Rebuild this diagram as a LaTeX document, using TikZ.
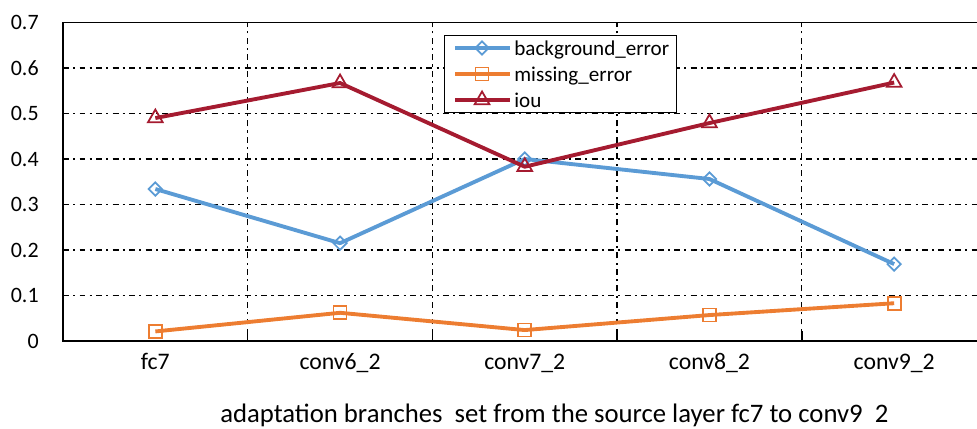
\documentclass[tikz,border=0pt]{standalone}
\usepackage{fontspec}
\setmainfont{Carlito}
\usetikzlibrary{shapes.geometric}

\definecolor{blu}{RGB}{91,155,213}
\definecolor{arancio}{RGB}{237,125,49}
\definecolor{rosso}{RGB}{165,27,48}

\begin{document}
\begin{tikzpicture}[x=3.694cm, y=9.1cm, font=\fontsize{12.5}{15}\selectfont]
\tikzstyle{griglia} = [line width=1pt, dash pattern=on 3.4pt off 2.4pt on 1.2pt off 2.4pt]
\tikzstyle{grigliav} = [line width=0.7pt, dash pattern=on 3.4pt off 2.4pt on 1.2pt off 2.4pt]
\tikzstyle{asse} = [line width=1.1pt]
\tikzstyle{serie} = [line width=2.2pt, line join=round]
\tikzstyle{mkb} = [draw=blu, line width=1pt, diamond, aspect=1, minimum size=0.28cm, inner sep=0]
\tikzstyle{mkm} = [draw=arancio, line width=1pt, rectangle, minimum size=0.26cm, inner sep=0]
\tikzstyle{mki} = [draw=rosso, line width=1pt, regular polygon, regular polygon sides=3, minimum size=0.34cm, inner sep=0]

% Dimensioni
\def\xmax{4.9486}
\def\ymax{0.7}

\useasboundingbox (-1.26cm,-1.76cm) rectangle (18.28cm,6.82cm);

% Griglia orizzontale
\foreach \v in {0.1,0.2,0.3,0.4,0.5,0.6} {
  \draw[griglia] (0,\v) -- (\xmax,\v);
}

% Griglia verticale e tacche
\foreach \c in {1,...,4} {
  \draw[grigliav] (\c,0) -- (\c,\ymax);
  \draw[line width=0.8pt] (\c,0) -- (\c,0.022);
}

% Assi
\draw[asse] (\xmax,\ymax) -- (0,\ymax) -- (0,0) -- (\xmax,0);

% Etichette asse y
\foreach \v [count=\k from 0] in {0,0.1,0.2,0.3,0.4,0.5,0.6,0.7} {
  \node[anchor=east, inner sep=0, xshift=-0.48cm] (ey-\k) at (0,\v) {\v};
}

% Etichette categorie
\foreach \nome [count=\k from 0] in {fc7,conv6\_2,conv7\_2,conv8\_2,conv9\_2} {
  \node[anchor=base, inner sep=0, yshift=-0.58cm, font=\fontsize{13.5}{16}\selectfont]
    (cat-\k) at (\k+0.5,0) {\nome};
}

% Titolo asse x
\node[anchor=base, inner sep=0, yshift=-1.64cm, font=\fontsize{15.2}{18}\selectfont]
  (titolo) at (2.66,0)
  {adaptation branches\ \ set from the source layer fc7 to conv9\ \ 2};

% --- Serie di dati ---------------------------------------------------
% background_error
\foreach \v [count=\k from 0] in {0.334,0.215,0.400,0.356,0.169} {
  \coordinate (b-\k) at (\k+0.5,\v);
}
\draw[serie, blu] (b-0) -- (b-1) -- (b-2) -- (b-3) -- (b-4);
\foreach \k in {0,...,4} {
  \node[mkb] (mb-\k) at (b-\k) {};
}

% missing_error
\foreach \v [count=\k from 0] in {0.021,0.062,0.024,0.057,0.083} {
  \coordinate (m-\k) at (\k+0.5,\v);
}
\draw[serie, arancio] (m-0) -- (m-1) -- (m-2) -- (m-3) -- (m-4);
\foreach \k in {0,...,4} {
  \node[mkm] (mm-\k) at (m-\k) {};
}

% iou
\foreach \v [count=\k from 0] in {0.490,0.567,0.383,0.479,0.568} {
  \coordinate (i-\k) at (\k+0.5,\v);
}
\draw[serie, rosso] (i-0) -- (i-1) -- (i-2) -- (i-3) -- (i-4);
\foreach \k in {0,...,4} {
  \node[mki] (mi-\k) at (i-\k) {};
}

% --- Legenda -----------------------------------------------------------
\node[draw, fill=white, line width=0.8pt, minimum width=4.64cm, minimum height=1.54cm,
      anchor=north west, inner sep=0] (legenda) at (2.063,0.6725) {};
\foreach \s/\col/\nome/\dy [count=\k] in {mkb/blu/background\_error/0.26,
                                          mkm/arancio/missing\_error/0.78,
                                          mki/rosso/iou/1.30} {
  \coordinate (l\k-a) at ([xshift=0.22cm, yshift=-\dy cm]legenda.north west);
  \coordinate (l\k-b) at ([xshift=1.32cm, yshift=-\dy cm]legenda.north west);
  \draw[serie, \col] (l\k-a) -- (l\k-b);
  \node[\s] (l\k-m) at ([xshift=0.76cm, yshift=-\dy cm]legenda.north west) {};
  \node[anchor=base west, inner sep=0, font=\fontsize{12}{14}\selectfont] (l\k-t)
    at ([xshift=1.40cm, yshift=-\dy cm - 0.14cm]legenda.north west) {\nome};
}

\end{tikzpicture}
\end{document}
